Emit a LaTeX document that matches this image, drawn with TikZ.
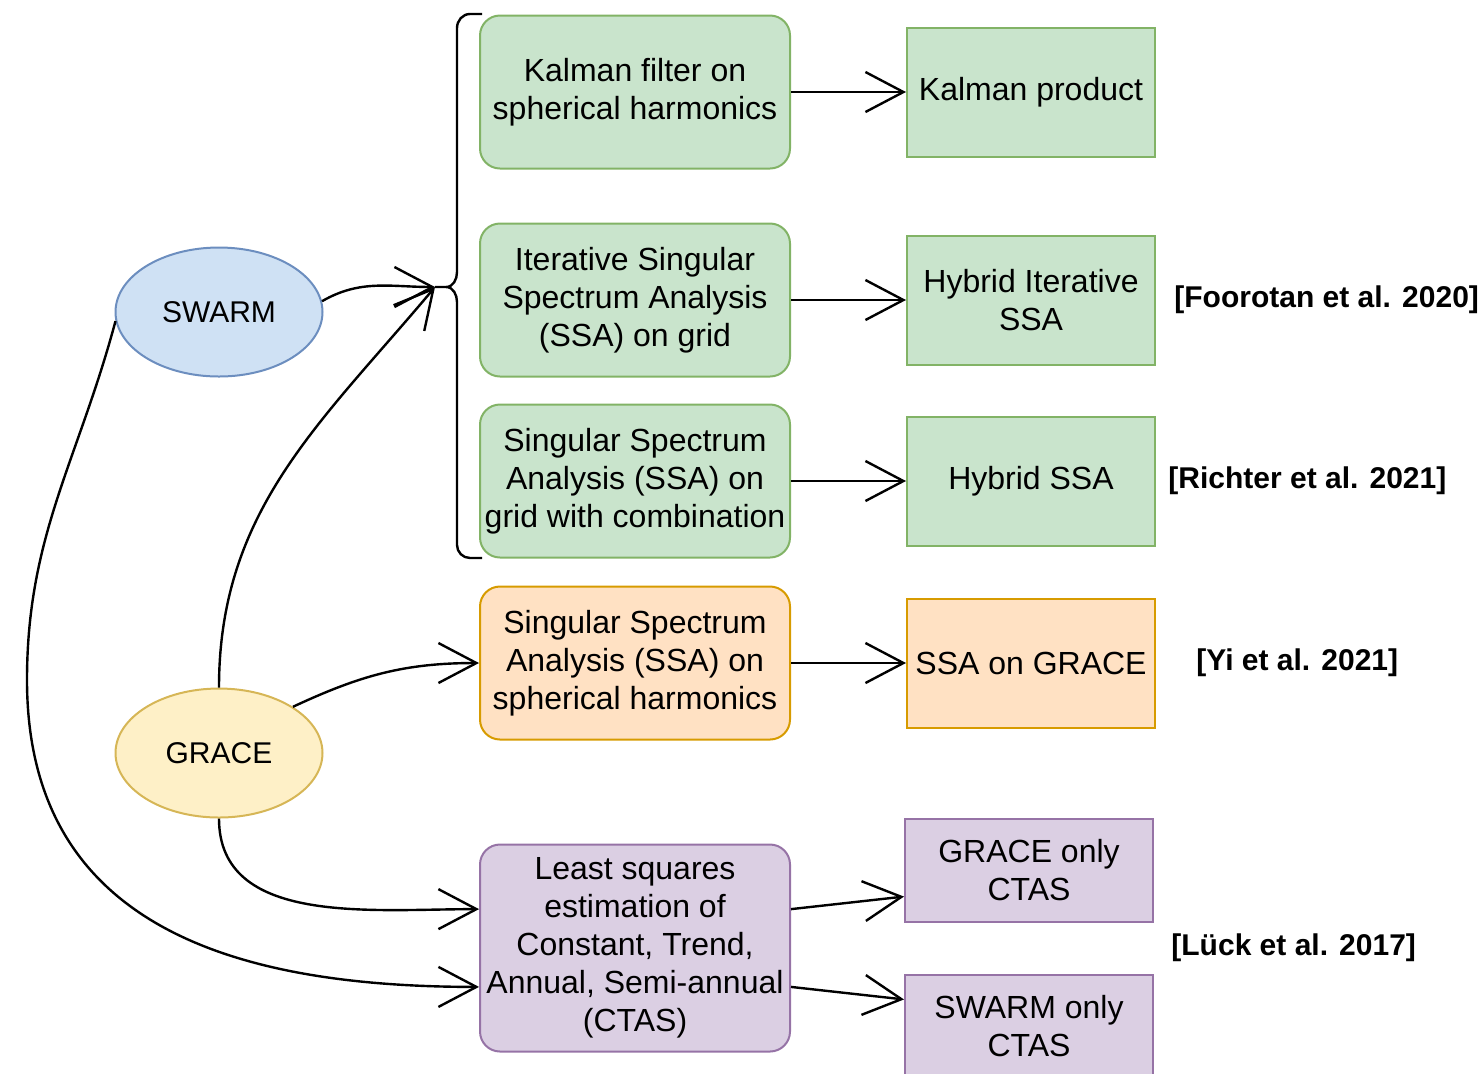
\documentclass[tikz,border=0pt]{standalone}
\usepackage{fontspec}
\setmainfont{Liberation Sans}
\usetikzlibrary{arrows.meta, positioning, shapes.geometric}

\definecolor{greenfill}{HTML}{C9E4CC}
\definecolor{greendraw}{HTML}{82B366}
\definecolor{orangefill}{HTML}{FFE1C3}
\definecolor{orangedraw}{HTML}{D79B00}
\definecolor{purplefill}{HTML}{DBCFE3}
\definecolor{purpledraw}{HTML}{9673A6}
\definecolor{bluefill}{HTML}{CFE1F4}
\definecolor{bluedraw}{HTML}{6C8EBF}
\definecolor{yellowfill}{HTML}{FEF0C7}
\definecolor{yellowdraw}{HTML}{D6B656}

\begin{document}
\begin{tikzpicture}[
    x=0.5pt, y=0.5pt,
    font=\fontsize{16}{19}\selectfont,
    method/.style={rectangle, rounded corners=10pt, line width=1pt, minimum width=155pt, minimum height=76.5pt, inner sep=1pt, align=center},
    product/.style={rectangle, line width=1pt, minimum width=124pt, minimum height=64.5pt, align=center},
    mission/.style={ellipse, line width=1pt, minimum width=103.5pt, minimum height=64.5pt, font=\fontsize{15}{19}\selectfont},
    greenbox/.style={fill=greenfill, draw=greendraw},
    orangebox/.style={fill=orangefill, draw=orangedraw},
    purplebox/.style={fill=purplefill, draw=purpledraw},
    ref/.style={font=\fontsize{15}{19}\selectfont\bfseries, inner sep=0pt},
    arr/.style={-{Straight Barb[length=19pt,width=20pt]}, line width=1.2pt}
]
\useasboundingbox (0,0) rectangle (1481,-1073);

% methods and products
\node[method, greenbox] (kf) at (635,-92) {Kalman filter on\\spherical harmonics};
\node[product, greenbox, right=57.5pt of kf] (kp) {Kalman product};
\node[method, greenbox] (issa) at (635,-300) {Iterative Singular\\Spectrum Analysis\\(SSA) on grid};
\node[product, greenbox, right=57.5pt of issa] (hissa) {Hybrid Iterative\\SSA};
\node[method, greenbox] (ssac) at (635,-481) {Singular Spectrum\\Analysis (SSA) on\\grid with combination};
\node[product, greenbox, right=57.5pt of ssac] (hssa) {Hybrid SSA};
\node[method, orangebox] (ssash) at (635,-663) {Singular Spectrum\\Analysis (SSA) on\\spherical harmonics};
\node[product, orangebox, right=57.5pt of ssash] (ssag) {SSA on GRACE};
\node[method, purplebox, minimum height=103.5pt] (ctas) at (635,-948) {Least squares\\estimation of\\Constant, Trend,\\Annual, Semi-annual\\(CTAS)};
\node[product, purplebox, minimum height=51.5pt] (gcta) at (1029,-870) {GRACE only\\CTAS};
\node[product, purplebox, minimum height=51.5pt] (scta) at (1029,-1026) {SWARM only\\CTAS};

% missions
\node[mission, fill=bluefill, draw=bluedraw] (swarm) at (219,-312) {SWARM};
\node[mission, fill=yellowfill, draw=yellowdraw] (grace) at (219,-753) {GRACE};

% references
\node[ref, right=9pt of hissa] (foorotan) {[Foorotan et al. 2020]};
\node[ref, right=6pt of hssa] (richter) {[Richter et al. 2021]};
\node[ref, right=20pt of ssag] (yi) {[Yi et al. 2021]};
\node[ref, anchor=west] (lueck) at (1171,-948) {[Lück et al. 2017]};

% brace
\coordinate (tip) at (435,-287);
\draw[line width=1.2pt] (482,-14) -- (470,-14) to[out=180,in=90] (457,-28) -- (457,-272)
    to[out=-90,in=0] (446,-287) -- (tip) -- (446,-287) to[out=0,in=90] (457,-302)
    -- (457,-545) to[out=-90,in=180] (470,-558) -- (482,-558);

% connectors
\draw[arr] (swarm.6) to[out=30,in=180] (tip);
\draw[arr] (grace.north) to[out=90,in=-130] (tip);
\draw[arr] (grace.32) to[out=25,in=180] (ssash.west);
\draw[arr] (grace.south) to[out=-90,in=180] (ctas.166);
\coordinate (bend) at (27,-680);
\draw[arr] (swarm.185) to[out=-105,in=90] (bend) to[out=-90,in=180,looseness=1.15] (ctas.194);

\draw[arr] (kf) -- (kp);
\draw[arr] (issa) -- (hissa);
\draw[arr] (ssac) -- (hssa);
\draw[arr] (ssash) -- (ssag);
\draw[arr] (ctas.14) -- (gcta.192);
\draw[arr] (ctas.-14) -- (scta.168);

\end{tikzpicture}
\end{document}
